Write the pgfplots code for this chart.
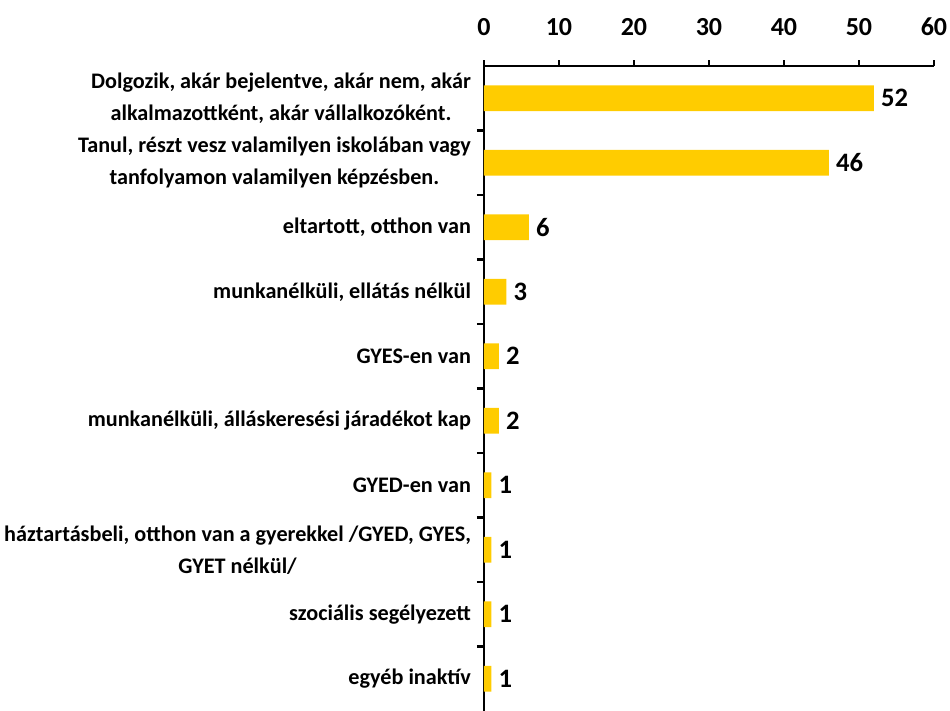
\documentclass[border=0pt]{standalone}
\usepackage{pgfplots}
\pgfplotsset{compat=1.18}
\usepackage{fontspec}
\setmainfont{Carlito}
\definecolor{bargold}{HTML}{FFCC00}
\begin{document}
\begin{tikzpicture}
\begin{axis}[
  at={(0,0)}, anchor=south west,
  scale only axis, width=225pt, height=322.5pt,
  xbar, bar width=0.4,
  xmin=0, xmax=60, xtick={0,10,...,60},
  ymin=-0.5, ymax=9.5, y dir=reverse,
  ytick={0,...,9},
  minor ytick={0.5,1.5,...,8.5},
  yticklabels={
    {Dolgozik, akár bejelentve, akár nem, akár\\alkalmazottként, akár vállalkozóként.},
    {Tanul, részt vesz valamilyen iskolában vagy\\tanfolyamon valamilyen képzésben.},
    {eltartott, otthon van},
    {munkanélküli, ellátás nélkül},
    {GYES-en van},
    {munkanélküli, álláskeresési járadékot kap},
    {GYED-en van},
    {háztartásbeli, otthon van a gyerekkel /GYED, GYES,\\GYET nélkül/},
    {szociális segélyezett},
    {egyéb inaktív}},
  axis x line=top, axis y line=left,
  axis line style={-, line width=1.2pt, black},
  tick align=outside,
  major tick length=3pt, minor tick length=3.5pt,
  every tick/.style={black, line width=1.2pt},
  major y tick style={draw=none},
  /pgf/number format/assume math mode=true,
  xticklabel style={font=\bfseries\fontsize{13}{15}\selectfont, yshift=8.5pt},
  yticklabel style={font=\bfseries\fontsize{11.1}{16}\selectfont, align=center, xshift=0pt},
  nodes near coords,
  every node near coord/.append style={font=\bfseries\fontsize{13.3}{15}\selectfont, black, anchor=west, xshift=0pt},
]
\addplot[fill=bargold, draw=none] coordinates {
  (52,0) (46,1) (6,2) (3,3) (2,4) (2,5) (1,6) (1,7) (1,8) (1,9)};
\end{axis}
\pgfresetboundingbox
\path[use as bounding box] (-242pt,0) rectangle (233pt,355.5pt);
\end{tikzpicture}
\end{document}
